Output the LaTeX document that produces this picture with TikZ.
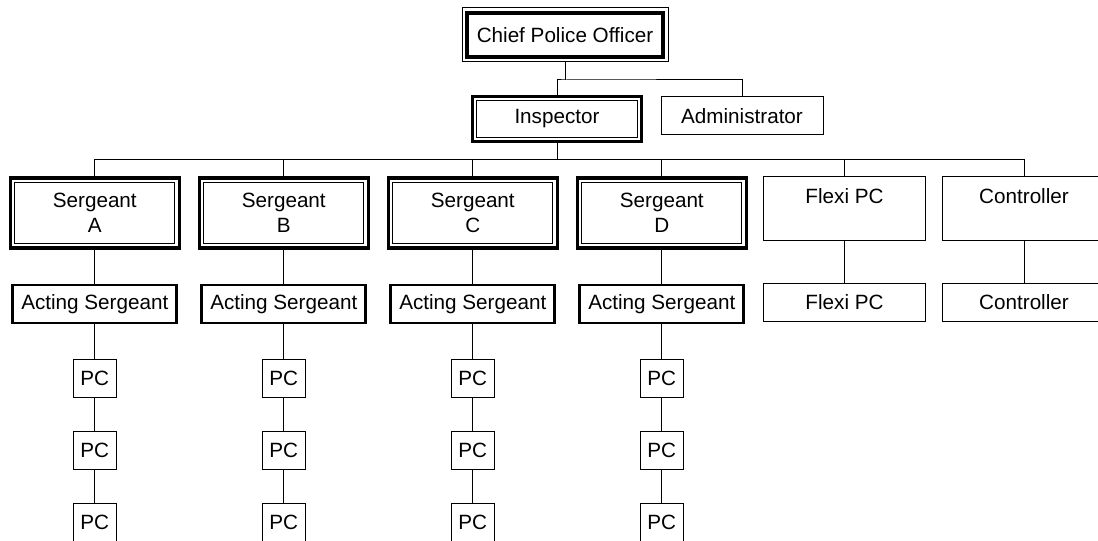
\documentclass[tikz,border=0pt]{standalone}
\usepackage{fontspec}
\setmainfont{Liberation Sans}
\begin{document}
\begin{tikzpicture}[x=0.75pt,y=-0.75pt,
    font=\fontsize{15.5}{18.75}\selectfont,
    thinbox/.style={draw, line width=0.75pt, inner sep=0pt, align=center},
    chiefbox/.style={thinbox, path picture={\draw[line width=3pt]
        ([shift={(3.6pt,-3.5pt)}]path picture bounding box.north west) rectangle
        ([shift={(-3.6pt,3.5pt)}]path picture bounding box.south east);}},
    rankbox/.style={draw, line width=2.3pt, inner sep=0pt, align=center, path picture={\draw[line width=0.75pt]
        ([shift={(3.2pt,-3.2pt)}]path picture bounding box.north west) rectangle
        ([shift={(-3.2pt,3.2pt)}]path picture bounding box.south east);}},
    actbox/.style={draw, line width=2.2pt, inner sep=0pt, align=center},
    link/.style={line width=0.75pt}]

  \useasboundingbox (0,0) rectangle (1098,541);

  % top of the chart
  \node[chiefbox, minimum width=154.5pt, minimum height=40.5pt] (cpo) at (565,35) {Chief Police Officer};
  \node[rankbox, minimum width=127pt, minimum height=34pt] (insp) at (557,119) {Inspector};
  \node[thinbox, minimum width=121.5pt, minimum height=28.5pt] (adm) at (742,116) {Administrator};

  \coordinate (bus1) at (565,80);
  \coordinate (bus2) at (557,160);

  % sergeant columns
  \begin{scope}[every node/.style={minimum height=28.5pt}]
    \foreach \i/\t in {1/A,2/B,3/C,4/D} {
      \node[rankbox, minimum width=126.4pt, minimum height=52.5pt] (s\i) at (94.8+189*\i-189,213) {Sergeant\\\t};
      \node[actbox, minimum width=123pt] (a\i) at (94.8+189*\i-189,304) {Acting Sergeant};
      \node[thinbox, minimum width=32pt] (p\i1) at (94.8+189*\i-189,378) {PC};
      \node[thinbox, minimum width=32pt] (p\i2) at (94.8+189*\i-189,450) {PC};
      \node[thinbox, minimum width=32pt] (p\i3) at (94.8+189*\i-189,522) {PC};
    }
    \node[thinbox, minimum width=122pt, minimum height=48pt] (f1) at (844.5,209) {Flexi PC\\\mbox{}};
    \node[thinbox, minimum width=122pt, minimum height=48pt] (c1) at (1024,209) {Controller\\\mbox{}};
    \node[thinbox, minimum width=122pt, minimum height=29pt] (f2) at (844.5,302.5) {Flexi PC};
    \node[thinbox, minimum width=122pt, minimum height=29pt] (c2) at (1024,302.5) {Controller};
  \end{scope}

  % connectors
  \begin{scope}[link]
    \draw (cpo.south) -- (bus1);
    \draw (insp.north) |- (bus1) -| (adm.north);
    \draw (insp.south) -- (insp.south |- bus2);
    \foreach \n in {s1,s2,s3,s4,f1,c1}
      \draw (insp.south |- bus2) -| (\n.north);
    \foreach \i in {1,2,3,4} {
      \path (s\i) edge (a\i);
      \path (a\i) edge (p\i1);
      \path (p\i1) edge (p\i2);
      \path (p\i2) edge (p\i3);
    }
    \path (f1) edge (f2);
    \path (c1) edge (c2);
  \end{scope}

\end{tikzpicture}
\end{document}
